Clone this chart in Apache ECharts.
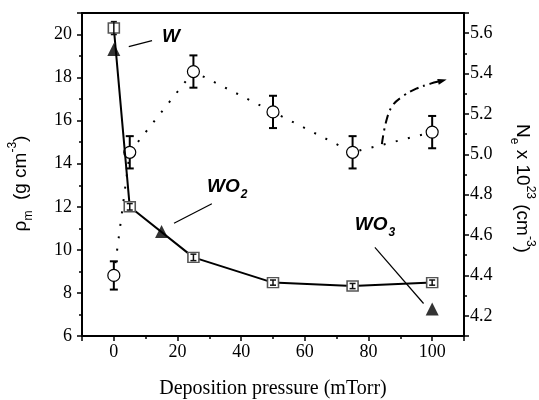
<!DOCTYPE html>
<html><head><meta charset="utf-8">
<script src="https://cdn.jsdelivr.net/npm/echarts@6/dist/echarts.min.js"></script>
<style>html,body{margin:0;padding:0;background:#fff}#c{width:539px;height:400px}</style>
</head><body><div id="c"></div>
<script>
// ---- data ----
const pressure = [0, 5, 25, 50, 75, 100];
const density = [20.3, 12.0, 9.65, 8.48, 8.32, 8.48];
const densityErr = [0.3, 0.15, 0.15, 0.12, 0.12, 0.12];
const carrier = [4.40, 5.01, 5.41, 5.21, 5.01, 5.11];
const carrierErr = [0.07, 0.08, 0.08, 0.08, 0.08, 0.08];
const bulkX = [0, 15, 100];
const bulkDensity = [19.3, 10.85, 7.25];
const trendX = [84.2, 85.5, 87.5, 91, 95, 99.5, 103.2];
const trendY = [5.05, 5.16, 5.24, 5.29, 5.325, 5.35, 5.365];
const xTicks = [0, 20, 40, 60, 80, 100];
const leftTicks = [6, 8, 10, 12, 14, 16, 18, 20];
const rightTicks = [4.2, 4.4, 4.6, 4.8, 5.0, 5.2, 5.4, 5.6];
const phaseNames = ['W', 'WO', 'WO'];
const phaseSubs = ['', '2', '3'];

// ---- styles / annotation placement ----
const SERIF = "'Liberation Serif','Times New Roman',serif";
const SANS = "'Liberation Sans',Arial,sans-serif";
const annTextPos = [[15.1, 19.9], [29.3, 12.95], [75.7, 11.17]];
const annLines = [[[4.7, 19.44], [12.0, 19.72]], [[18.9, 11.24], [30.8, 12.14]], [[82.0, 10.12], [97.3, 7.51]]];

const has = (arr, v) => arr.some(t => Math.abs(t - v) < 1e-6);

function errRender(cap, width, color) {
  return function (params, api) {
    const x = api.value(0), y = api.value(1), e = api.value(2);
    const t = api.coord([x, y + e]), b = api.coord([x, y - e]);
    const st = { stroke: color, lineWidth: width };
    return { type: 'group', children: [
      { type: 'line', shape: { x1: t[0], y1: t[1], x2: b[0], y2: b[1] }, style: st },
      { type: 'line', shape: { x1: t[0] - cap, y1: t[1], x2: t[0] + cap, y2: t[1] }, style: st },
      { type: 'line', shape: { x1: b[0] - cap, y1: b[1], x2: b[0] + cap, y2: b[1] }, style: st }
    ] };
  };
}

const axisLine = { show: true, onZero: false, lineStyle: { color: '#000', width: 2 } };
const minorAxis = (extra) => Object.assign({
  type: 'value', axisLine: { show: false, onZero: false }, axisLabel: { show: false },
  splitLine: { show: false }, axisTick: { show: true, length: 3, lineStyle: { color: '#000', width: 1.5 } }
}, extra);
const tickLabel = { color: '#000', fontFamily: SERIF, fontSize: 18 };

const nameRich = {
  t: { fontFamily: SANS, fontSize: 19, lineHeight: 28, color: '#000' },
  sup: { fontFamily: SANS, fontSize: 12, lineHeight: 12, verticalAlign: 'top', color: '#000' },
  sub: { fontFamily: SANS, fontSize: 12, lineHeight: 12, verticalAlign: 'bottom', color: '#000' }
};

const chart = echarts.init(document.getElementById('c'), null, { renderer: 'canvas' });
const option = {
  backgroundColor: '#fff',
  animation: false,
  grid: { left: 82, right: 75, top: 13, bottom: 64, show: true, borderColor: '#000', borderWidth: 2,
          containLabel: false, outerBoundsMode: 'none' },
  xAxis: [
    { type: 'value', min: -10, max: 110, splitNumber: 6, position: 'bottom',
      axisLine: axisLine, splitLine: { show: false },
      axisTick: { length: 5, lineStyle: { color: '#000', width: 1.5 } },
      axisLabel: Object.assign({ margin: 7, formatter: v => has(xTicks, v) ? String(Math.round(v)) : '' }, tickLabel),
      name: 'Deposition pressure (mTorr)', nameLocation: 'middle', nameGap: 43,
      nameTextStyle: { color: '#000', fontFamily: SERIF, fontSize: 20 } },
    minorAxis({ min: -10, max: 110, interval: 10, position: 'bottom' })
  ],
  yAxis: [
    { type: 'value', min: 6, max: 21, splitNumber: 7, position: 'left',
      axisLine: axisLine, splitLine: { show: false },
      axisTick: { length: 5, lineStyle: { color: '#000', width: 1.5 } },
      axisLabel: Object.assign({ margin: 10, formatter: v => has(leftTicks, v) ? String(v) : '' }, tickLabel),
      name: '{t|ρ}{sub|m}{t|  (g cm}{sup|-3}{t|)}', nameLocation: 'middle', nameGap: 47,
      nameTextStyle: { rich: nameRich, padding: [0, 18, 0, 0] } },
    { type: 'value', min: 4.1, max: 5.7, splitNumber: 8, position: 'right',
      axisLine: axisLine, splitLine: { show: false },
      axisTick: { length: 5, lineStyle: { color: '#000', width: 1.5 } },
      axisLabel: Object.assign({ margin: 6, formatter: v => has(rightTicks, v) ? v.toFixed(1) : '' }, tickLabel),
      name: '{t|N}{sub|e}{t| x 10}{sup|23}{t| (cm}{sup|-3}{t|)}', nameLocation: 'middle', nameGap: 44, nameRotate: -90,
      nameTextStyle: { rich: nameRich, padding: [0, 0, 0, 28] } },
    minorAxis({ min: 6, max: 21, interval: 1, position: 'left' }),
    minorAxis({ min: 4.1, max: 5.7, interval: 0.1, position: 'right' })
  ],
  series: [
    { name: 'Ne', type: 'line', xAxisIndex: 0, yAxisIndex: 1, z: 4,
      data: pressure.map((x, i) => [x, carrier[i]]),
      symbol: 'circle', symbolSize: 12,
      itemStyle: { color: '#fff', borderColor: '#000', borderWidth: 1.2 },
      lineStyle: { color: '#000', width: 2, type: [2, 10.5] } },
    { name: 'Ne err', type: 'custom', xAxisIndex: 0, yAxisIndex: 1, z: 3,
      data: pressure.map((x, i) => [x, carrier[i], carrierErr[i]]),
      renderItem: errRender(4, 2, '#000') },
    { name: 'density', type: 'line', xAxisIndex: 0, yAxisIndex: 0, z: 5,
      data: pressure.map((x, i) => [x, density[i]]),
      symbol: 'rect', symbolSize: [11, 10],
      itemStyle: { color: '#fff', borderColor: '#555', borderWidth: 1.5 },
      lineStyle: { color: '#000', width: 2 } },
    { name: 'density err', type: 'custom', xAxisIndex: 0, yAxisIndex: 0, z: 6,
      data: pressure.map((x, i) => [x, density[i], densityErr[i]]),
      renderItem: errRender(3, 1.5, '#111') },
    { name: 'bulk', type: 'scatter', xAxisIndex: 0, yAxisIndex: 0, z: 7,
      data: bulkX.map((x, i) => [x, bulkDensity[i]]),
      symbol: 'triangle', symbolSize: 13, itemStyle: { color: '#000' } },
    { name: 'trend', type: 'line', xAxisIndex: 0, yAxisIndex: 1, z: 4, smooth: 0.4,
      showSymbol: true, symbol: 'none',
      data: trendX.map((x, i) => i === trendX.length - 1
        ? { value: [x, trendY[i]], symbol: 'triangle', symbolSize: [6, 9], symbolRotate: -75 }
        : [x, trendY[i]]),
      itemStyle: { color: '#000' },
      lineStyle: { color: '#000', width: 2, type: [9, 5, 2, 5] } }
  ]
};
chart.setOption(option);

// ---- annotations (phase labels with pointer lines) ----
const ctx = document.createElement('canvas').getContext('2d');
const mainFont = 'italic bold 19px ' + SANS;
ctx.font = mainFont;
const graphics = [];
phaseNames.forEach((nm, i) => {
  const p = chart.convertToPixel({ xAxisIndex: 0, yAxisIndex: 0 }, annTextPos[i]);
  graphics.push({ type: 'text', z: 10, x: p[0], y: p[1],
    style: { text: nm, font: mainFont, fill: '#000', verticalAlign: 'middle', align: 'left' } });
  if (phaseSubs[i]) {
    const w = ctx.measureText(nm).width;
    graphics.push({ type: 'text', z: 10, x: p[0] + w + 1, y: p[1] + 8,
      style: { text: phaseSubs[i], font: 'italic bold 12px ' + SANS, fill: '#000', verticalAlign: 'middle', align: 'left' } });
  }
  const a = chart.convertToPixel({ xAxisIndex: 0, yAxisIndex: 0 }, annLines[i][0]);
  const b = chart.convertToPixel({ xAxisIndex: 0, yAxisIndex: 0 }, annLines[i][1]);
  graphics.push({ type: 'line', z: 10, shape: { x1: a[0], y1: a[1], x2: b[0], y2: b[1] },
    style: { stroke: '#000', lineWidth: 1.2 } });
});
chart.setOption({ graphic: graphics });
</script>
</body></html>
